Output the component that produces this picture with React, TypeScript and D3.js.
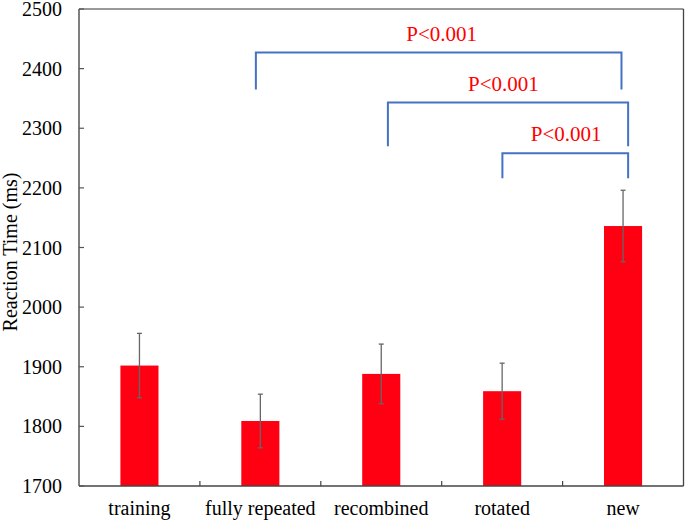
import React from "react";
import * as d3 from "d3";

const categories = ["training", "fully repeated", "recombined", "rotated", "new"];
const means = [1902, 1809, 1888, 1859, 2136];
const errors = [54, 45, 50, 47, 60];
const yTicks = [1700, 1800, 1900, 2000, 2100, 2200, 2300, 2400, 2500];

// brackets: x in category-index units (0..5), y in ms
const bracketX1 = [1.463, 2.555, 3.502];
const bracketX2 = [4.487, 4.542, 4.542];
const bracketTop = [2427, 2343, 2258];
const bracketLeftEnd = [2365, 2270, 2216];
const bracketRightEnd = [2365, 2270, 2216];
const bracketLabels = ["P<0.001", "P<0.001", "P<0.001"];
const labelX = [3.0, 3.51, 4.03];
const labelY = [2447, 2363, 2279];

const W = 685;
const H = 521;
const left = 79;
const right = 683.5;
const top = 9;
const bottom = 486;

export default function App() {
  const x = d3.scaleBand<string>().domain(categories).range([left, right]).paddingInner(0).paddingOuter(0);
  const xi = d3.scaleLinear().domain([0, 5]).range([left, right]);
  const y = d3.scaleLinear().domain([1700, 2500]).range([bottom, top]);
  const bw = x.bandwidth() * 0.315;
  const font = "Liberation Serif, Tinos, DejaVu Serif, serif";
  const axisColor = "#555";

  return (
    <svg width={W} height={H} style={{ position: "absolute", left: 0, top: 0, background: "#fff", fontFamily: font }}>
      <rect x={0} y={0} width={W} height={H} fill="#fff" />
      {/* bars */}
      {categories.map((c, i) => {
        const cx = (x(c) as number) + x.bandwidth() / 2;
        return (
          <g key={c}>
            <rect x={cx - bw / 2} y={y(means[i])} width={bw} height={y(1700) - y(means[i])} fill="#ff0013" />
            <line x1={cx} x2={cx} y1={y(means[i] + errors[i])} y2={y(means[i] - errors[i])} stroke="#666" strokeWidth={1.3} />
            <line x1={cx - 2.5} x2={cx + 2.5} y1={y(means[i] + errors[i])} y2={y(means[i] + errors[i])} stroke="#666" strokeWidth={1.3} />
            <line x1={cx - 2.5} x2={cx + 2.5} y1={y(means[i] - errors[i])} y2={y(means[i] - errors[i])} stroke="#666" strokeWidth={1.3} />
          </g>
        );
      })}
      {/* frame */}
      <line x1={left} x2={right} y1={top} y2={top} stroke="#777" strokeWidth={1.3} />
      <line x1={right} x2={right} y1={top} y2={bottom} stroke="#444" strokeWidth={1.3} />
      <line x1={left} x2={left} y1={top} y2={bottom} stroke={axisColor} strokeWidth={1.5} />
      <line x1={left} x2={right} y1={bottom} y2={bottom} stroke="#444" strokeWidth={1.5} />
      {/* y ticks */}
      {yTicks.map((t) => (
        <g key={t}>
          <line x1={left} x2={left + 5} y1={y(t)} y2={y(t)} stroke={axisColor} strokeWidth={1.2} />
          <text x={62} y={y(t)} dy="0.35em" textAnchor="end" fontSize={20} fill="#000">
            {t}
          </text>
        </g>
      ))}
      {/* x ticks */}
      {categories.slice(1).map((c) => (
        <line key={c} x1={x(c)} x2={x(c)} y1={bottom} y2={bottom - 5} stroke="#444" strokeWidth={1.2} />
      ))}
      {categories.map((c) => (
        <text key={c} x={(x(c) as number) + x.bandwidth() / 2} y={515} textAnchor="middle" fontSize={20} fill="#000">
          {c}
        </text>
      ))}
      <text transform={`translate(17,252) rotate(-90)`} textAnchor="middle" fontSize={20} fill="#000">
        Reaction Time (ms)
      </text>
      {/* brackets */}
      {bracketLabels.map((l, i) => (
        <g key={i}>
          <path
            d={`M${xi(bracketX1[i])},${y(bracketLeftEnd[i])}V${y(bracketTop[i])}H${xi(bracketX2[i])}V${y(bracketRightEnd[i])}`}
            fill="none"
            stroke="#4472c4"
            strokeWidth={2}
          />
          <text x={xi(labelX[i])} y={y(labelY[i])} textAnchor="middle" fontSize={21} fill="#ff0000">
            {l}
          </text>
        </g>
      ))}
    </svg>
  );
}
